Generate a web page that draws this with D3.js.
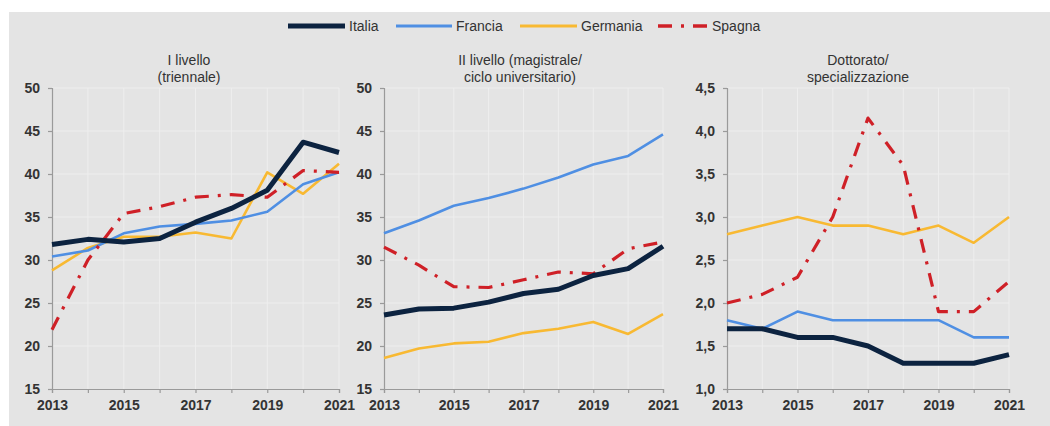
<!DOCTYPE html>
<html><head><meta charset="utf-8">
<script src="https://cdn.jsdelivr.net/npm/d3@7"></script>
<style>body{margin:0;background:#fff}svg{display:block}</style>
</head><body>
<svg id="c" width="1050" height="426"></svg>
<script>
const years = [2013,2014,2015,2016,2017,2018,2019,2020,2021];
const xTickLabels = [2013,2015,2017,2019,2021];
const seriesNames = ["Italia","Francia","Germania","Spagna"];

const p1Italia   = [31.8,32.4,32.1,32.5,34.4,36.0,38.1,43.7,42.5];
const p1Francia  = [30.4,31.1,33.1,33.9,34.2,34.6,35.6,38.8,40.2];
const p1Germania = [28.8,31.4,32.7,32.7,33.2,32.5,40.2,37.7,41.2];
const p1Spagna   = [21.9,30.0,35.4,36.2,37.3,37.6,37.3,40.4,40.2];

const p2Italia   = [23.6,24.3,24.4,25.1,26.1,26.6,28.2,29.0,31.6];
const p2Francia  = [33.1,34.6,36.3,37.2,38.3,39.6,41.1,42.1,44.6];
const p2Germania = [18.6,19.7,20.3,20.5,21.5,22.0,22.8,21.4,23.7];
const p2Spagna   = [31.5,29.4,26.9,26.8,27.7,28.6,28.4,31.3,32.1];

const p3Italia   = [1.7,1.7,1.6,1.6,1.5,1.3,1.3,1.3,1.4];
const p3Francia  = [1.8,1.7,1.9,1.8,1.8,1.8,1.8,1.6,1.6];
const p3Germania = [2.8,2.9,3.0,2.9,2.9,2.8,2.9,2.7,3.0];
const p3Spagna   = [2.0,2.1,2.3,3.0,4.15,3.6,1.9,1.9,2.25];

const p1Ticks = [15,20,25,30,35,40,45,50];
const p2Ticks = [15,20,25,30,35,40,45,50];
const p3Ticks = [1.0,1.5,2.0,2.5,3.0,3.5,4.0,4.5];

const titles = [["I livello","(triennale)"],["II livello (magistrale/","ciclo universitario)"],["Dottorato/","specializzazione"]];

const styles = {
  Italia:{color:"#0c2340",width:5,dash:null},
  Francia:{color:"#4f8fe3",width:2.6,dash:null},
  Germania:{color:"#f8b932",width:2.6,dash:null},
  Spagna:{color:"#cf2027",width:3.2,dash:"14,9,3,9"}
};

const panels = [
  {x0:52,x1:339,domain:[15,50],ticks:p1Ticks,fmt:d=>d,data:[p1Italia,p1Francia,p1Germania,p1Spagna],title:titles[0],tcx:189},
  {x0:384,x1:663,domain:[15,50],ticks:p2Ticks,fmt:d=>d,data:[p2Italia,p2Francia,p2Germania,p2Spagna],title:titles[1],tcx:520},
  {x0:727,x1:1009,domain:[1,4.5],ticks:p3Ticks,fmt:d=>d3.format(".1f")(d).replace(".",","),data:[p3Italia,p3Francia,p3Germania,p3Spagna],title:titles[2],tcx:858}
];

const svg = d3.select("#c");
svg.append("rect").attr("x",9).attr("y",12).attr("width",1041).attr("height",414).attr("fill","#e4e4e4");

const font = "'Liberation Sans', Arial, sans-serif";
const yTop = 88, yBot = 389;

panels.forEach(p=>{
  const x = d3.scaleLinear().domain([2013,2021]).range([p.x0,p.x1]);
  const y = d3.scaleLinear().domain(p.domain).range([yBot,yTop]);
  const g = svg.append("g");
  g.selectAll(".hg").data(p.ticks.slice(1)).join("line")
    .attr("x1",p.x0).attr("x2",p.x1).attr("y1",d=>y(d)).attr("y2",d=>y(d))
    .attr("stroke","#eeeeee").attr("stroke-width",1);
  g.selectAll(".vg").data(years.slice(1)).join("line")
    .attr("x1",d=>x(d)).attr("x2",d=>x(d)).attr("y1",yTop).attr("y2",yBot)
    .attr("stroke","#eeeeee").attr("stroke-width",1);
  const ya = d3.axisLeft(y).tickValues(p.ticks).tickSize(4).tickPadding(8).tickFormat(p.fmt);
  const yg = g.append("g").attr("transform",`translate(${p.x0},0)`).call(ya);
  const xa = d3.axisBottom(x).tickValues(years).tickSize(4).tickPadding(7).tickFormat(d=>xTickLabels.includes(d)?d:"");
  const xg = g.append("g").attr("transform",`translate(0,${yBot})`).call(xa);
  [yg,xg].forEach(a=>{
    a.select(".domain").attr("stroke","#9a9a9a").attr("stroke-width",1.2);
    a.selectAll(".tick line").attr("stroke","#9a9a9a").attr("stroke-width",1.2);
    a.selectAll("text").attr("fill","#333").attr("font-family",font).attr("font-size",14).attr("font-weight","bold");
  });
  yg.selectAll("text").attr("dy","0.35em");
  g.selectAll(".t").data(p.title).join("text")
    .attr("x",p.tcx).attr("y",(d,i)=>65+i*17).attr("text-anchor","middle")
    .attr("font-family",font).attr("font-size",14).attr("fill","#333").text(d=>d);
  const order = [2,1,3,0];
  order.forEach(i=>{
    const s = styles[seriesNames[i]];
    const line = d3.line().x((d,k)=>x(years[k])).y(d=>y(d));
    g.append("path").datum(p.data[i]).attr("d",line)
      .attr("fill","none").attr("stroke",s.color).attr("stroke-width",s.width)
      .attr("stroke-dasharray",s.dash).attr("stroke-linejoin","round");
  });
});

const legendItems = [
  {name:"Italia",x0:288,x1:345},
  {name:"Francia",x0:396,x1:452},
  {name:"Germania",x0:520,x1:577},
  {name:"Spagna",x0:658,x1:708}
];
const lg = svg.append("g");
legendItems.forEach(it=>{
  const s = styles[it.name];
  lg.append("line").attr("x1",it.x0).attr("x2",it.x1).attr("y1",26).attr("y2",26)
    .attr("stroke",s.color).attr("stroke-width",it.name==="Italia"?5:(it.name==="Spagna"?3.5:2.8)).attr("stroke-dasharray",s.dash);
  lg.append("text").attr("x",it.x1+4).attr("y",31).attr("font-family",font).attr("font-size",14).attr("fill","#333").text(it.name);
});
</script>
</body></html>
